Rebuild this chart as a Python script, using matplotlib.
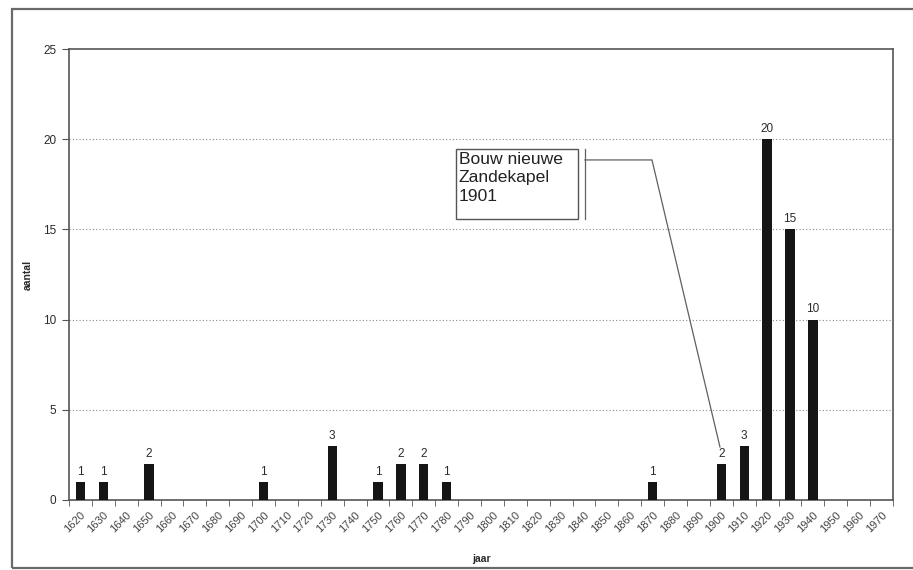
import numpy as np
import matplotlib
matplotlib.use('Agg')
import matplotlib.pyplot as plt
from matplotlib.patches import Rectangle

plt.rcParams['font.family'] = ['Liberation Sans', 'DejaVu Sans']

# decade categories on the x axis
jaren = list(range(1620, 1980, 10))
# decades that have a value
bar_jaren = [1620, 1630, 1650, 1700, 1730, 1750, 1760, 1770, 1780, 1870, 1900, 1910, 1920, 1930, 1940]
aantal = [1, 1, 2, 1, 3, 1, 2, 2, 1, 1, 2, 3, 20, 15, 10]
y_ticks = [0, 5, 10, 15, 20, 25]
notitie = 'Bouw nieuwe\nZandekapel\n1901'

txt = '#2a2a2a'
spine = '#555555'

fig = plt.figure(figsize=(9.13, 5.70), dpi=100)
ax = fig.add_axes([69/913, 1-500/570, (893-69)/913, (500-49)/570])

ax.bar(bar_jaren, aantal, width=4.1, color='#151515', zorder=3)
for x, v in zip(bar_jaren, aantal):
    ax.annotate(str(v), (x, v), xytext=(0, 3), textcoords='offset points',
                ha='center', va='bottom', fontsize=8.5, color=txt)

ax.set_xlim(1615, 1975)
ax.set_ylim(0, 25)

# labels at category centres, tick marks between categories
ax.set_xticks(jaren)
ax.set_xticklabels([str(j) for j in jaren], rotation=45, ha='right',
                   rotation_mode='anchor', fontsize=8, color='#444444')
ax.tick_params(axis='x', which='major', length=0, pad=7)
ax.set_xticks([j - 5 for j in jaren] + [1975], minor=True)
ax.tick_params(axis='x', which='minor', length=4, color=spine, direction='out')

ax.set_yticks(y_ticks)
ax.set_yticklabels([str(v) for v in y_ticks], fontsize=8.5, color=txt)
ax.tick_params(axis='y', length=5, color=spine, pad=4)

for v in y_ticks[1:-1]:
    ax.axhline(v, color='#8a8a8a', lw=0.8, ls=(0, (1, 2)), zorder=1)

for s in ax.spines.values():
    s.set_color(spine)
    s.set_linewidth(1.2)

ax.set_xlabel('jaar', fontsize=7.5, fontweight='bold', color=txt, labelpad=14)
ax.set_ylabel('aantal', fontsize=7.5, fontweight='bold', color=txt, labelpad=12)
ax.yaxis.set_label_coords(-36/824, 0.5)

# text box with leader line towards the 1900 bar
ax.add_patch(Rectangle((1784.1, 15.58), 53.3, 3.88, fill=True, fc='white',
                       ec='#555555', lw=1.0, zorder=4))
ax.text(1785.3, 19.3, notitie, ha='left', va='top', fontsize=12.6,
        color='#222222', linespacing=1.3, zorder=5)
ax.plot([1840.4, 1840.4], [15.58, 19.46], color='#606060', lw=0.9, zorder=4)
ax.plot([1840.4, 1869.7, 1899.4], [18.85, 18.85, 2.94], color='#606060', lw=0.9, zorder=4)

# outer frame of the scanned chart
fig.patches.append(Rectangle((12/913, 2/570), 1.0, 559/570, transform=fig.transFigure,
                             fill=False, ec='#6a6a6a', lw=1.6, clip_on=False))

fig.savefig('out.png', dpi=100)
